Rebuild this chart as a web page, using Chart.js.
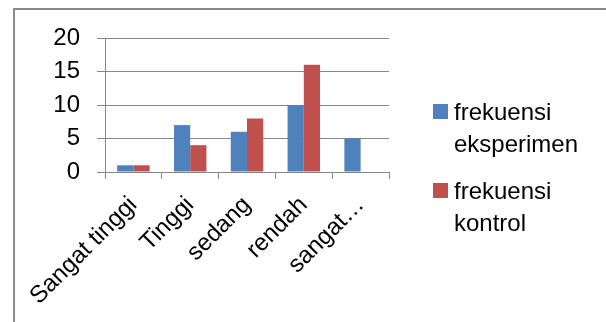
<!DOCTYPE html>
<html>
<head>
<meta charset="utf-8">
<script src="https://cdn.jsdelivr.net/npm/chart.js@4/dist/chart.umd.min.js"></script>
<style>
  html, body { margin: 0; padding: 0; background: #fff; }
  #wrap { position: relative; width: 606px; height: 322px; overflow: hidden; font-family: "Liberation Sans", Arial, sans-serif; }
  #frame { position: absolute; left: 13px; top: 8px; width: 700px; height: 400px;
           border-top: 2px solid #8a8a8a; border-left: 2px solid #8a8a8a; box-sizing: border-box; }
  canvas { position: absolute; left: 0; top: 0; }
  #legend { position: absolute; left: 433px; top: 96px; }
  .item { position: relative; padding-left: 21px; width: 150px; font-size: 24px; line-height: 32px; color: #000; margin-bottom: 15px; }
  .swatch { position: absolute; left: 0; top: 8px; width: 15px; height: 15px; }
</style>
</head>
<body>
<div id="wrap">
  <div id="frame"></div>
  <canvas id="c" width="606" height="322"></canvas>
  <div id="legend"></div>
</div>
<script>
// Categories and frequency counts per group
const categories = ['Sangat tinggi', 'Tinggi', 'sedang', 'rendah', 'sangat rendah'];
const xTickLabels = ['Sangat tinggi', 'Tinggi', 'sedang', 'rendah', 'sangat…'];
const seriesNames = ['frekuensi eksperimen', 'frekuensi kontrol'];
const eksperimen = [1, 7, 6, 10, 5];
const kontrol = [1, 4, 8, 16, 0];
const yTicks = [0, 5, 10, 15, 20];

const colors = ['#4F81BD', '#C0504D'];
const gridColor = '#868686';
const font = { family: '"Liberation Sans", Arial, sans-serif', size: 24 };

const chart = new Chart(document.getElementById('c'), {
  type: 'bar',
  data: {
    labels: categories,
    datasets: [
      { label: seriesNames[0], data: eksperimen, backgroundColor: colors[0] },
      { label: seriesNames[1], data: kontrol, backgroundColor: colors[1] }
    ]
  },
  options: {
    responsive: false,
    animation: false,
    devicePixelRatio: 1,
    layout: { padding: { top: 38, left: 0, right: 217, bottom: 0 } },
    datasets: { bar: { categoryPercentage: 2 / 3.5, barPercentage: 1 } },
    plugins: { legend: { display: false }, tooltip: { enabled: false } },
    scales: {
      x: {
        afterFit: s => { s.height = 322 - 172; },
        grid: { offset: true, drawOnChartArea: false, drawTicks: true, tickLength: 7, color: gridColor, lineWidth: 1 },
        border: { color: gridColor, width: 1 },
        ticks: {
          color: '#000', font, padding: 12, autoSkip: false,
          maxRotation: 45, minRotation: 45,
          callback: (v, i) => xTickLabels[i]
        }
      },
      y: {
        min: 0, max: 20,
        afterFit: s => { s.width = 105; },
        afterBuildTicks: s => { s.ticks = yTicks.map(v => ({ value: v })); },
        grid: { color: gridColor, lineWidth: 1, tickLength: 8 },
        border: { color: gridColor, width: 1 },
        ticks: { color: '#000', font, padding: 17 }
      }
    }
  }
});

// Legend built from the dataset labels and colours
const legend = document.getElementById('legend');
chart.data.datasets.forEach(ds => {
  const item = document.createElement('div');
  item.className = 'item';
  const sw = document.createElement('span');
  sw.className = 'swatch';
  sw.style.background = ds.backgroundColor;
  item.appendChild(sw);
  item.appendChild(document.createTextNode(ds.label));
  legend.appendChild(item);
});
</script>
</body>
</html>
